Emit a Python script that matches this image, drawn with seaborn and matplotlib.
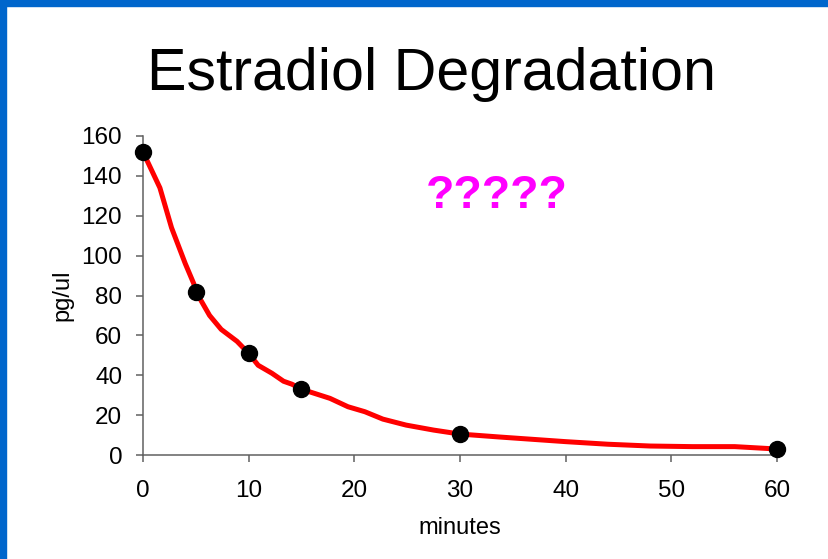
import matplotlib
matplotlib.use("Agg")
import matplotlib.pyplot as plt
import seaborn as sns
import pandas as pd
from matplotlib.patches import Rectangle

# Measured points
minutes = [0, 5, 10, 15, 30, 60]
conc = [152, 82, 51, 33, 10.5, 3]

# Fitted curve
curve_x = [0, 1.6, 2.7, 4.0, 4.8, 5, 6.3, 7.4, 8.9, 10, 10.9, 12.2, 13.3, 14.1, 15,
           17.7, 19.4, 21, 22.7, 24.9, 27.5, 30, 33.8, 40, 44, 48, 52, 56, 60]
curve_y = [152, 134, 114, 96, 86, 82, 70, 63, 57, 51, 45, 41, 37, 35.5, 33,
           28.4, 24.2, 21.7, 18, 15, 12.5, 10.5, 9, 6.7, 5.4, 4.5, 4.2, 4.2, 3]

title = "Estradiol Degradation"
annotation = "?????"
x_ticks = [0, 10, 20, 30, 40, 50, 60]
y_ticks = [0, 20, 40, 60, 80, 100, 120, 140, 160]

sns.set_theme(style="white")
plt.rcParams['font.family'] = ['Liberation Sans', 'DejaVu Sans']

fig = plt.figure(figsize=(8.29, 5.59), dpi=100)
fig.patch.set_facecolor("white")
ax = fig.add_axes([143/829, 1-455/559, (777-143)/829, (455-136)/559])

df_curve = pd.DataFrame({"minutes": curve_x, "pg/ul": curve_y})
df_pts = pd.DataFrame({"minutes": minutes, "pg/ul": conc})

sns.lineplot(data=df_curve, x="minutes", y="pg/ul", ax=ax, color="#FF0000",
             linewidth=3.6, sort=False, clip_on=False, zorder=2)
ax.plot(df_pts["minutes"], df_pts["pg/ul"], 'o', color="black", markersize=11.5,
        clip_on=False, zorder=3)

ax.set_xlim(0, 60)
ax.set_ylim(0, 160)
ax.set_xticks(x_ticks)
ax.set_yticks(y_ticks)
for s in ["top", "right"]:
    ax.spines[s].set_visible(False)
for s in ["left", "bottom"]:
    ax.spines[s].set_color("#606060")
    ax.spines[s].set_linewidth(1.1)
ax.tick_params(axis="both", direction="out", length=5, width=1.1, color="#606060",
               labelsize=17.5, labelcolor="black", left=True, bottom=True)
ax.tick_params(axis="x", pad=13)
ax.tick_params(axis="y", pad=10)
ax.set_xlabel("minutes", fontsize=17, color="black", labelpad=11)
ax.set_ylabel("pg/ul", fontsize=17, color="black", labelpad=6)
ax.grid(False)
ax.set_facecolor("white")

fig.text(432/829, 1-74/559, title, ha="center", va="center", fontsize=42.6, color="black")
ax.text(26.8, 130, annotation, ha="left", va="center", fontsize=33.5,
        fontweight="bold", color="#FF00FF")

# Blue slide border
fig.patches.append(Rectangle((0, 1-6/559), 1, 6/559, transform=fig.transFigure,
                             color="#0066CC", zorder=10))
fig.patches.append(Rectangle((0, 0), 6/829, 1, transform=fig.transFigure,
                             color="#0066CC", zorder=10))

fig.savefig("out.png", dpi=100)
